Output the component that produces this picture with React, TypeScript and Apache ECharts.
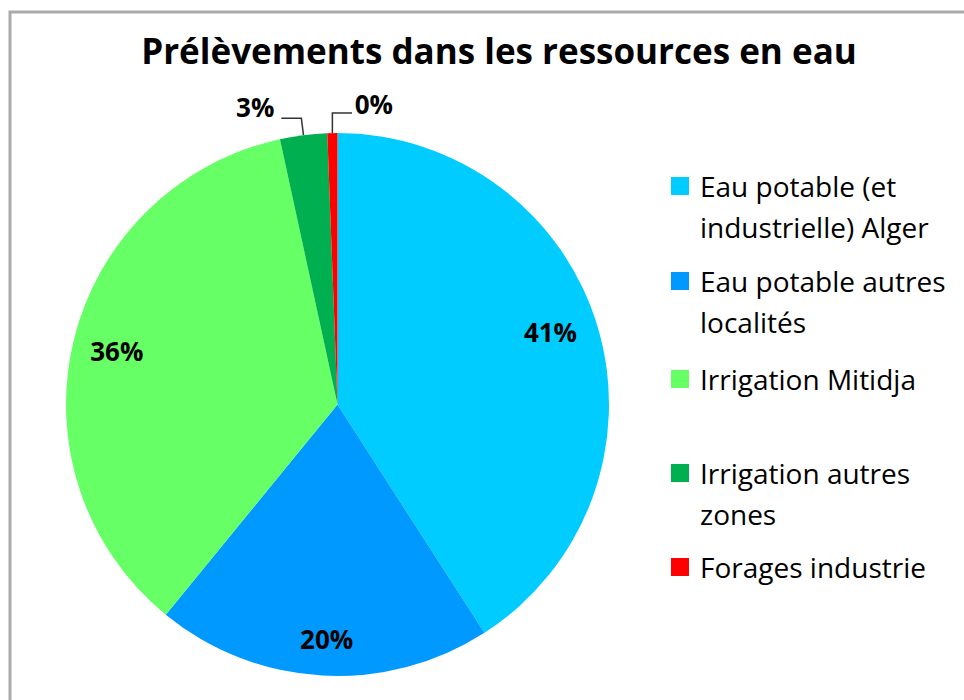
import React, { useEffect, useRef } from "react";
import * as echarts from "echarts";

const titleText = "Prélèvements dans les ressources en eau";
const categories = [
  "Eau potable (et industrielle) Alger",
  "Eau potable autres localités",
  "Irrigation Mitidja",
  "Irrigation autres zones",
  "Forages industrie",
];
const legendLabels = [
  "Eau potable (et\nindustrielle) Alger",
  "Eau potable autres\nlocalités",
  "Irrigation Mitidja",
  "Irrigation autres\nzones",
  "Forages industrie",
];
const values = [40.9, 20.0, 35.7, 2.8, 0.6];
const colors = ["#00CCFF", "#0099FF", "#66FF66", "#00B050", "#FF0000"];

// label placement styles (Excel "best fit" emulation)
const labelPlacement = [
  { len: -47, len2: 0, dist: -29, line: false, lift: 9 },
  { len: -37, len2: 0, dist: -29, line: false, lift: 0 },
  { len: -42, len2: 0, dist: -29, line: false, lift: 0 },
  { len: 17, len2: 20, dist: 7, line: true, lift: 11 },
  { len: 20, len2: -20, dist: -41, line: true, lift: 9 },
];
const legendIconCenters = [187, 282, 380, 474, 568];

export default function App() {
  const ref = useRef<HTMLDivElement>(null);
  useEffect(() => {
    if (!ref.current) return;
    const chart = echarts.init(ref.current, null, { renderer: "svg" });
    const font = "'Open Sans', Lato, sans-serif";
    chart.setOption({
      animation: false,
      backgroundColor: "#ffffff",
      title: {
        text: titleText,
        left: 494,
        top: 28,
        textAlign: "center",
        textStyle: { fontFamily: font, fontSize: 35, fontWeight: "bold", color: "#000" },
      },
      graphic: [
        {
          type: "rect",
          shape: { x: 10, y: 12, width: 1000, height: 800 },
          style: { fill: "none", stroke: "#aaaaaa", lineWidth: 3 },
          silent: true,
        },
      ],
      legend: categories.map((name, i) => {
        const twoLine = legendLabels[i].indexOf("\n") >= 0;
        return {
          data: [name],
          orient: "vertical",
          left: 671,
          top: legendIconCenters[i] - (twoLine ? 62.5 : 21.5),
          padding: 0,
          itemWidth: 18,
          itemHeight: 18,
          icon: "rect",
          formatter: () => (twoLine ? "\n" : "") + legendLabels[i],
          textStyle: {
            fontFamily: font,
            fontSize: 28,
            lineHeight: 41,
            color: "#000",
            padding: [0, 0, 0, 6],
          },
        };
      }),
      series: [
        {
          type: "pie",
          center: [337.5, 404.5],
          radius: 271.5,
          startAngle: 90,
          clockwise: true,
          avoidLabelOverlap: false,
          percentPrecision: 0,
          itemStyle: { borderWidth: 0 },
          label: {
            show: true,
            position: "outside",
            formatter: "{d}%",
            fontFamily: font,
            fontSize: 26,
            fontWeight: "bold",
            color: "#000",
          },
          labelLine: { show: true, lineStyle: { color: "#333", width: 1.5 } },
          data: categories.map((name, i) => {
            const p = labelPlacement[i];
            return {
              name,
              value: values[i],
              itemStyle: { color: colors[i] },
              label: p.lift
                ? { distanceToLabelLine: p.dist, formatter: "{d}%\n", lineHeight: p.lift * 2 }
                : { distanceToLabelLine: p.dist },
              labelLine: { show: p.line, length: p.len, length2: p.len2 },
            };
          }),
        },
      ],
    });
    return () => chart.dispose();
  }, []);
  return (
    <div
      ref={ref}
      style={{ position: "fixed", left: 0, top: 0, width: 964, height: 700 }}
    />
  );
}
